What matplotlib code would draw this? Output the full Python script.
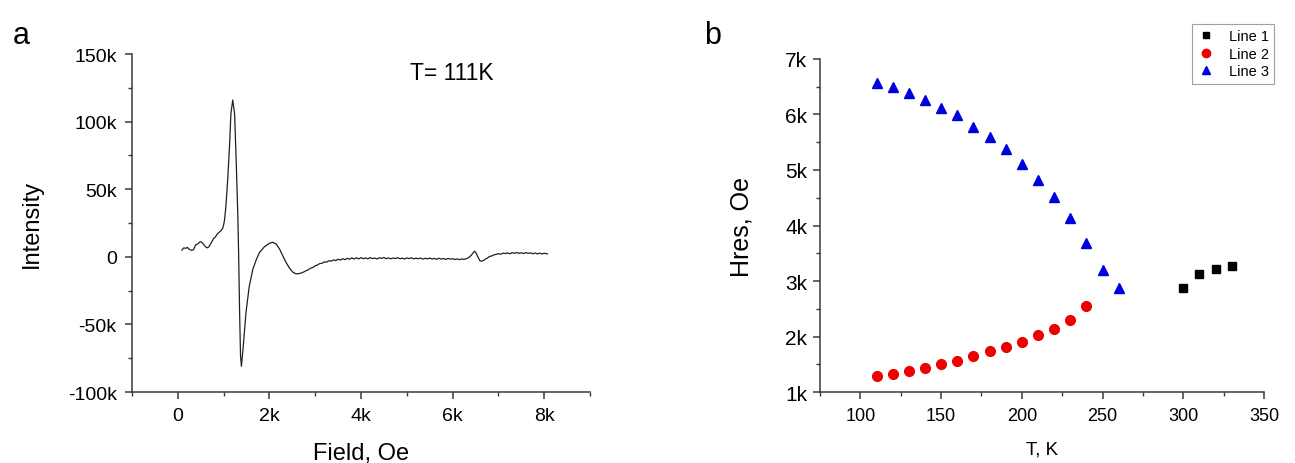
import matplotlib
matplotlib.use("Agg")
import matplotlib.pyplot as plt
from matplotlib.ticker import MultipleLocator, FuncFormatter
from matplotlib.lines import Line2D

plt.rcParams['font.family'] = ['Liberation Sans', 'DejaVu Sans']

# ---- panel a: EPR spectrum at T = 111 K (field in Oe, intensity in a.u.) ----
field = [
    90, 130, 170, 210, 250, 290, 340, 390, 440, 490, 530, 570, 600, 640, 680,
    720, 750, 790, 820, 860, 890, 920, 950, 980, 1000, 1020, 1050, 1090, 1130,
    1160, 1200, 1240, 1270, 1310, 1330, 1350, 1370, 1390, 1430, 1490, 1560,
    1640, 1710, 1780, 1890, 2000, 2070, 2150, 2220, 2290, 2360, 2440, 2510,
    2580, 2650, 2700, 2750, 2800, 2850, 2900, 2950, 3000, 3050, 3100, 3150,
    3200, 3250, 3300, 3350, 3400, 3450, 3500, 3550, 3600, 3650, 3700, 3750,
    3800, 3850, 3900, 3950, 4000, 4050, 4100, 4150, 4200, 4250, 4300, 4350,
    4400, 4450, 4500, 4550, 4600, 4650, 4700, 4750, 4800, 4850, 4900, 4950,
    5000, 5050, 5100, 5150, 5200, 5250, 5300, 5350, 5400, 5450, 5500, 5550,
    5600, 5650, 5700, 5750, 5800, 5850, 5900, 5950, 6000, 6050, 6100, 6150,
    6200, 6250, 6300, 6350, 6400, 6440, 6480, 6520, 6560, 6600, 6640, 6680,
    6720, 6760, 6800, 6850, 6900, 6950, 7000, 7050, 7100, 7150, 7200, 7250,
    7300, 7350, 7400, 7450, 7500, 7550, 7600, 7650, 7700, 7750, 7800, 7850,
    7900, 7950, 8000, 8070,
]
intensity = [
    4.9, 6.6, 6.3, 6.9, 5.6, 4.9, 5.1, 8.8, 9.6, 11.2, 10.6, 9.0, 7.6, 6.6,
    7.4, 9.8, 11.6, 13.9, 14.6, 16.8, 17.7, 18.6, 19.6, 21.0, 23.5, 27.0, 37.0,
    57.0, 82.0, 106.0, 116.0, 106.0, 77.0, 32.0, 0.0, -41.0, -73.0, -81.0,
    -66.0, -41.0, -22.0, -9.0, -2.5, 3.0, 7.4, 10.0, 10.8, 9.4, 5.9, 1.0,
    -3.9, -8.4, -11.3, -12.6, -12.4, -11.9, -11.2, -10.3, -9.6, -8.4, -7.9,
    -6.6, -6.0, -5.0, -4.8, -3.7, -3.9, -2.9, -3.2, -2.3, -2.8, -1.8, -2.4,
    -1.4, -2.1, -1.1, -1.8, -0.8, -1.6, -0.7, -1.5, -0.6, -1.4, -0.8, -1.5,
    -0.6, -1.3, -0.9, -1.6, -0.7, -1.2, -0.5, -1.4, -0.8, -1.5, -0.9, -1.3,
    -0.6, -1.4, -1.0, -1.6, -0.8, -1.3, -0.7, -1.5, -1.0, -1.4, -0.9, -1.7,
    -1.1, -1.5, -0.9, -1.6, -1.2, -1.8, -1.1, -1.6, -1.3, -1.9, -1.2, -1.7,
    -1.4, -2.0, -1.5, -2.1, -1.6, -1.9, -1.4, -0.6, 0.8, 2.6, 4.2, 2.4, -0.6,
    -3.0, -3.2, -2.6, -1.6, -1.0, 0.2, 0.6, 1.4, 1.8, 2.3, 1.9, 2.7, 2.4,
    2.9, 2.3, 3.1, 2.6, 3.2, 2.5, 3.0, 2.4, 3.1, 2.6, 2.9, 2.3, 2.8, 2.2,
    2.7, 2.1, 2.6, 2.2,
]

# ---- panel b: resonance field vs temperature ----
t_line1 = [300, 310, 320, 330]
h_line1 = [2870, 3130, 3220, 3270]
t_line2 = [110, 120, 130, 140, 150, 160, 170, 180, 190, 200, 210, 220, 230, 240]
h_line2 = [1280, 1320, 1380, 1440, 1500, 1560, 1650, 1740, 1810, 1910,
           2020, 2140, 2290, 2550]
t_line3 = [110, 120, 130, 140, 150, 160, 170, 180, 190, 200, 210, 220, 230,
           240, 250, 260]
h_line3 = [6560, 6490, 6390, 6260, 6120, 5990, 5780, 5590, 5370, 5110,
           4820, 4510, 4130, 3690, 3190, 2880]

spine_col = '#3a3a3a'


def kfmt(v, pos):
    if abs(v) < 1e-9:
        return '0'
    return f'{v / 1000:.0f}k'


def style_axes(ax):
    for s in ('top', 'right'):
        ax.spines[s].set_visible(False)
    for s in ('left', 'bottom'):
        ax.spines[s].set_color(spine_col)
        ax.spines[s].set_linewidth(1.1)
    ax.tick_params(which='major', direction='out', length=5, width=1.1,
                   color=spine_col)
    ax.tick_params(which='minor', direction='out', length=3, width=1.0,
                   color=spine_col)


fig = plt.figure(figsize=(12.95, 4.64), dpi=100)

# panel a
ax1 = fig.add_axes([0.1019, 0.153, 0.3537, 0.7284])
ax1.plot(field, [v * 1000 for v in intensity], color='#202020', lw=0.9)
ax1.set_xlim(-1000, 9000)
ax1.set_ylim(-100000, 150000)
ax1.xaxis.set_major_locator(MultipleLocator(2000))
ax1.xaxis.set_minor_locator(MultipleLocator(1000))
ax1.yaxis.set_major_locator(MultipleLocator(50000))
ax1.yaxis.set_minor_locator(MultipleLocator(25000))
ax1.xaxis.set_major_formatter(FuncFormatter(kfmt))
ax1.yaxis.set_major_formatter(FuncFormatter(kfmt))
style_axes(ax1)
ax1.tick_params(labelsize=14, pad=6)
ax1.set_xlabel('Field, Oe', fontsize=17, labelpad=13)
ax1.set_ylabel('Intensity', fontsize=17, labelpad=18)
ax1.text(0.607, 0.944, 'T= 111K', transform=ax1.transAxes, fontsize=16.5,
         ha='left', va='center')

# panel b
ax2 = fig.add_axes([0.6332, 0.153, 0.3429, 0.7177])
ax2.plot(t_line1, h_line1, ls='none', marker='s', ms=6, color='black',
         label='Line 1')
ax2.plot(t_line2, h_line2, ls='none', marker='o', ms=7, color='#ee0000',
         label='Line 2')
ax2.plot(t_line3, h_line3, ls='none', marker='^', ms=7, color='#0000dd',
         label='Line 3')
ax2.set_xlim(75, 350)
ax2.set_ylim(1000, 7000)
ax2.xaxis.set_major_locator(MultipleLocator(50))
ax2.xaxis.set_minor_locator(MultipleLocator(25))
ax2.yaxis.set_major_locator(MultipleLocator(1000))
ax2.yaxis.set_minor_locator(MultipleLocator(500))
ax2.yaxis.set_major_formatter(FuncFormatter(kfmt))
style_axes(ax2)
ax2.tick_params(axis='x', labelsize=13, pad=6)
ax2.tick_params(axis='y', labelsize=15, pad=4)
ax2.set_xlabel('T, K', fontsize=13.5, labelpad=12)
ax2.set_ylabel('Hres, Oe', fontsize=18, labelpad=23)

handles = [
    Line2D([], [], ls='none', marker='s', ms=5, color='black'),
    Line2D([], [], ls='none', marker='o', ms=6, color='#ee0000'),
    Line2D([], [], ls='none', marker='^', ms=6, color='#0000dd'),
]
leg = fig.legend(handles, ['Line 1', 'Line 2', 'Line 3'], loc='upper right',
                 bbox_to_anchor=(0.9838, 0.946), fontsize=10.5, frameon=True,
                 fancybox=False, edgecolor='#888888', borderaxespad=0,
                 handlelength=1.2, handletextpad=1.0, labelspacing=0.25,
                 borderpad=0.35)
leg.get_frame().set_linewidth(0.8)

fig.text(0.010, 0.955, 'a', fontsize=22, ha='left', va='top')
fig.text(0.544, 0.955, 'b', fontsize=22, ha='left', va='top')

fig.savefig('out.png', dpi=100)
